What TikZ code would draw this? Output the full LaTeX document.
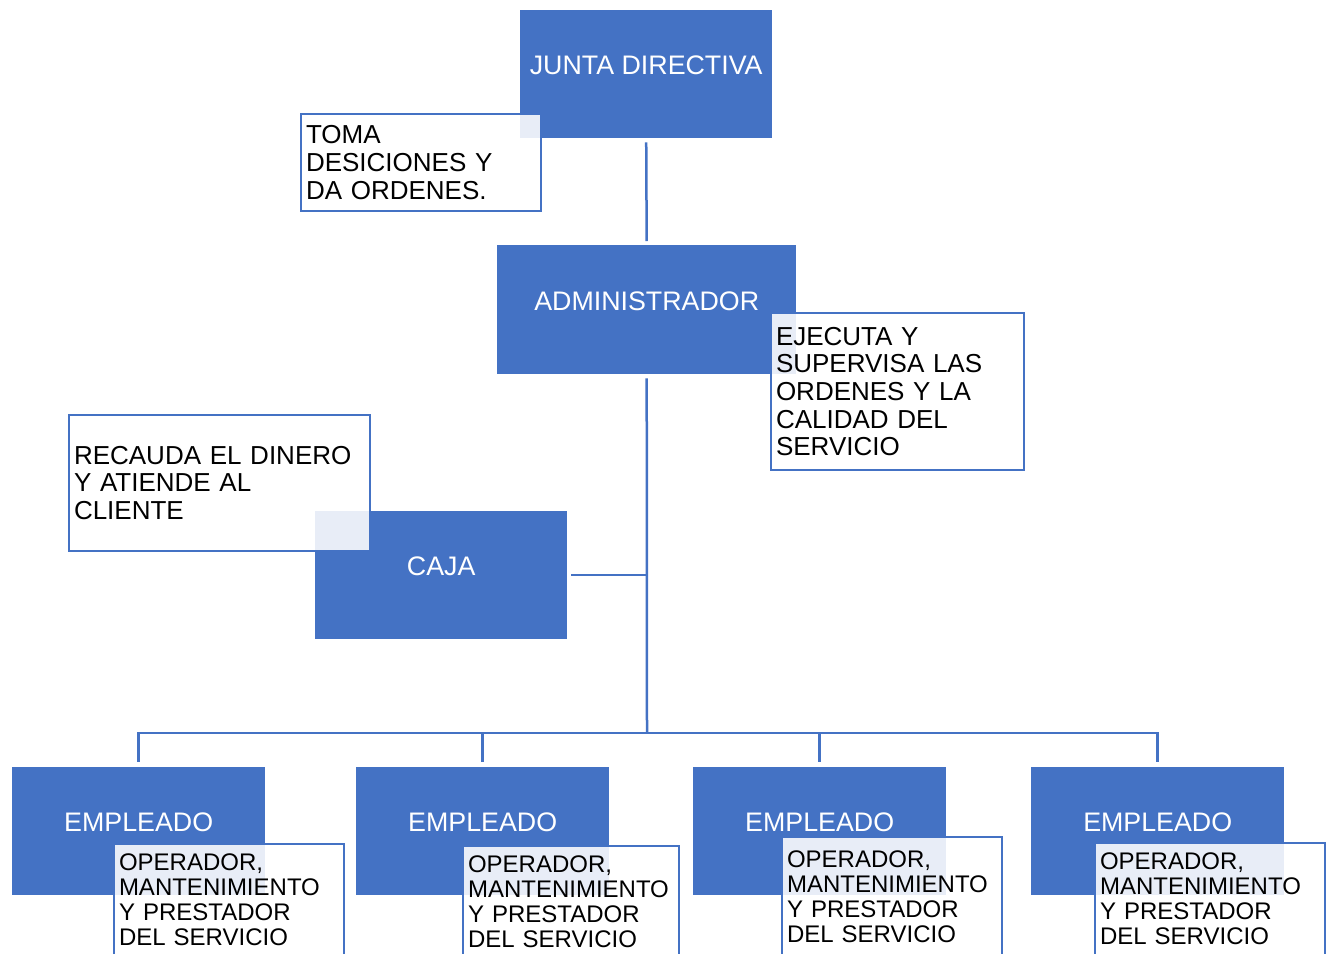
\documentclass[tikz,border=0pt]{standalone}
\usepackage{fontspec}
\setmainfont{Liberation Sans}
\definecolor{orgblue}{HTML}{4472C4}
\tikzset{
  puesto/.style={fill=orgblue, text=white, inner sep=0pt, anchor=north west,
    minimum width=252pt, minimum height=128pt,
    font=\fontsize{26.8}{28}\selectfont, text height=19pt, text depth=18pt},
  nota/.style={draw=orgblue, line width=2pt, fill=white, fill opacity=0.88,
    text opacity=1, anchor=north west, align=left, inner xsep=5pt, inner ysep=0pt,
    font=\fontsize{26}{27.7}\selectfont},
  notachica/.style={nota, minimum height=112pt, font=\fontsize{24}{25}\selectfont},
  linea/.style={draw=orgblue, line width=2.5pt},
}
\begin{document}
\begin{tikzpicture}[x=1pt,y=-1pt]
            \useasboundingbox (0,0) rectangle (1329,953);
            % cargos
            \node[puesto] (junta) at (520,10) {JUNTA DIRECTIVA};
            \node[puesto, minimum width=299pt, minimum height=129pt] (admin) at (497,245) {ADMINISTRADOR};
            \node[puesto] (caja) at (315,511) {CAJA};
            \node[puesto, minimum width=253pt] (emp1) at (12,767) {EMPLEADO};
            \node[puesto, minimum width=253pt] (emp2) at (356,767) {EMPLEADO};
            \node[puesto, minimum width=253pt] (emp3) at (693,767) {EMPLEADO};
            \node[puesto, minimum width=253pt] (emp4) at (1031,767) {EMPLEADO};
            % funciones
            \node[nota, text width=230pt, minimum height=97pt] (toma) at (300,113) {TOMA\\DESICIONES Y\\DA ORDENES.};
            \node[nota, text width=243pt, minimum height=157pt] (ejecuta) at (770,312) {EJECUTA Y\\SUPERVISA LAS\\ORDENES Y LA\\CALIDAD DEL\\SERVICIO};
            \node[nota, text width=291pt, minimum height=136pt] (recauda) at (68,414) {RECAUDA EL DINERO\\Y ATIENDE AL\\CLIENTE};
            \node[notachica, text width=220pt] (oper1) at (113,843) {OPERADOR,\\MANTENIMIENTO\\Y PRESTADOR\\DEL SERVICIO};
            \node[notachica, text width=206pt] (oper2) at (462,845) {OPERADOR,\\MANTENIMIENTO\\Y PRESTADOR\\DEL SERVICIO};
            \node[notachica, text width=210pt, minimum height=120pt] (oper3) at (781,836) {OPERADOR,\\MANTENIMIENTO\\Y PRESTADOR\\DEL SERVICIO};
            \node[notachica, text width=220pt] (oper4) at (1094,842) {OPERADOR,\\MANTENIMIENTO\\Y PRESTADOR\\DEL SERVICIO};
            % conectores
            \coordinate (bus) at (647,733);
            \draw[linea, shorten <=4pt, shorten >=4pt] (junta.south) -- (admin.north);
            \draw[linea, shorten <=4pt] (admin.south) -- (bus);
            \draw[linea, shorten <=4pt] (caja.east) -- (caja.east -| bus);
            \foreach \i in {1,...,4}
                \draw[linea, shorten >=5pt] (bus) -| (emp\i.north);
        \end{tikzpicture}
\end{document}
